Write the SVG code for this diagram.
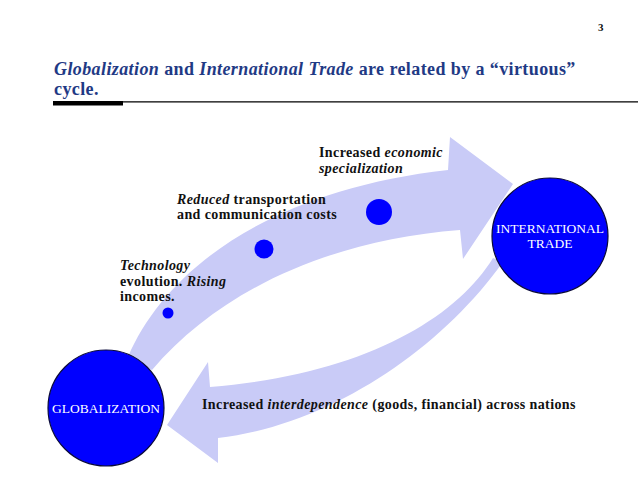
<svg xmlns="http://www.w3.org/2000/svg" width="638" height="479" viewBox="0 0 638 479">
  <style>
    .title { font-family: "Liberation Serif", "DejaVu Serif", serif; font-weight: bold; font-size: 18px; letter-spacing: 0.4px; fill: #1F3A85; }
    .lbl { font-family: "Liberation Serif", "DejaVu Serif", serif; font-weight: bold; font-size: 14px; letter-spacing: 0.4px; fill: #111111; }
    .it { font-style: italic; }
    .band { fill: #C9CBF7; }
    .node { fill: #0000FF; stroke: #0A0A3A; stroke-width: 1.2; }
    .ntxt { font-family: "Liberation Serif", "DejaVu Serif", serif; font-size: 13.5px; fill: #FFFFFF; text-anchor: middle; }
    .dot { fill: #0000FF; }
  </style>
  <rect width="638" height="479" fill="#FFFFFF"/>
  <text x="598" y="31" style="font-family: 'Liberation Serif', serif; font-size: 11px; font-weight: bold; fill: #111;">3</text>
  <text class="title" x="54" y="75"><tspan class="it">Globalization</tspan> and <tspan class="it">International Trade</tspan> are related by a “virtuous”</text>
  <text class="title" x="54" y="95">cycle.</text>
  <rect x="53" y="101" width="70" height="4.5" fill="#000000"/>
  <line x1="123" y1="101.8" x2="638" y2="101.8" stroke="#000000" stroke-width="1.2"/>

  <g id="connectors">
    <path id="arrow-top" class="band" d="M 128,357 C 165,270 270,190 448,170 L 450,137 L 513,184 L 463,259 L 460,230 C 330,240 220,290 152,370 Z"/>
    <path id="arrow-bottom" class="band" d="M 493,258 C 455,320 360,375 210,387 L 208,362 L 167,425 L 218,463 L 218,438 C 330,425 440,350 503,262 Z"/>
  </g>

  <g id="dots">
    <circle class="dot" cx="168" cy="313" r="5.5"/>
    <circle class="dot" cx="264" cy="249" r="9.5"/>
    <circle class="dot" cx="379" cy="212" r="13"/>
  </g>

  <g id="node-globalization">
    <circle class="node" cx="106" cy="408" r="58"/>
    <text class="ntxt" x="106" y="413">GLOBALIZATION</text>
  </g>
  <g id="node-international-trade">
    <circle class="node" cx="550" cy="236" r="58"/>
    <text class="ntxt" x="550" y="233">INTERNATIONAL</text>
    <text class="ntxt" x="550" y="248">TRADE</text>
  </g>

  <g id="labels">
    <text class="lbl" x="319" y="157">Increased <tspan class="it">economic</tspan></text>
    <text class="lbl it" x="319" y="173">specialization</text>
    <text class="lbl" x="177" y="204"><tspan class="it">Reduced</tspan> transportation</text>
    <text class="lbl" x="177" y="219">and communication costs</text>
    <text class="lbl it" x="120" y="270">Technology</text>
    <text class="lbl" x="120" y="286">evolution. <tspan class="it">Rising</tspan></text>
    <text class="lbl" x="120" y="301">incomes.</text>
    <text class="lbl" x="202" y="409">Increased <tspan class="it">interdependence</tspan> (goods, financial) across nations</text>
  </g>
</svg>
